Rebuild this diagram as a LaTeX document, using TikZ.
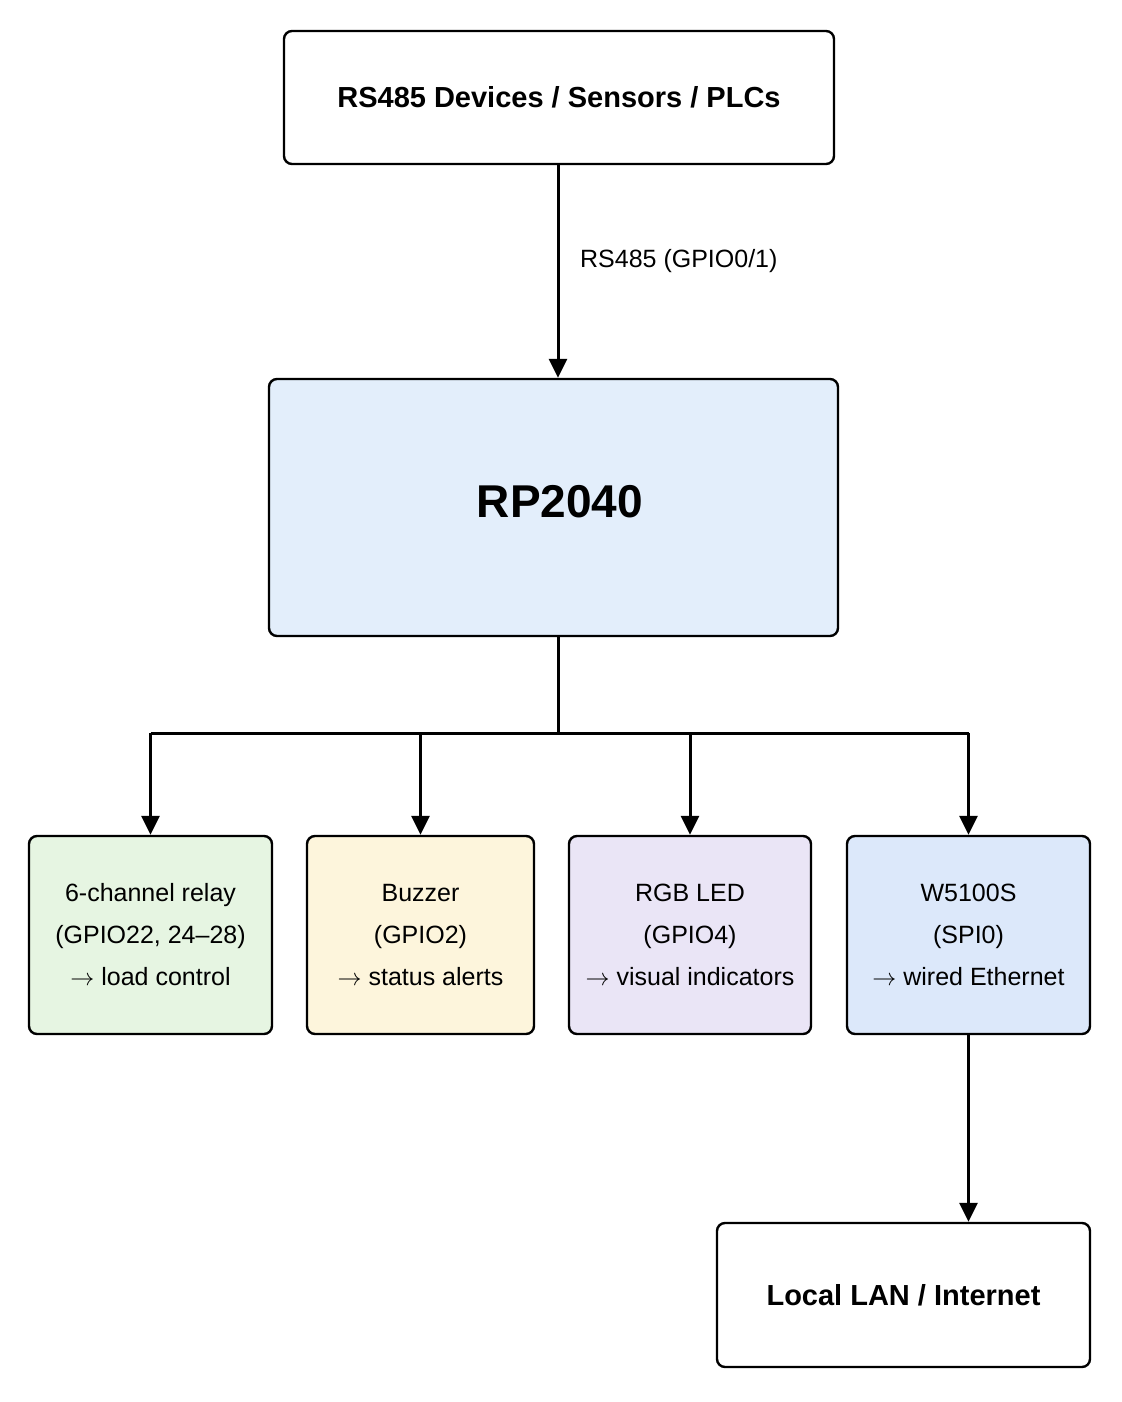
\documentclass[tikz,border=0pt]{standalone}
\usepackage{fontspec}
\setmainfont{Liberation Sans}
\usepackage{xcolor}
\usetikzlibrary{arrows.meta, positioning}

\definecolor{mcublue}{HTML}{E3EEFB}
\definecolor{relaygreen}{HTML}{E6F5E2}
\definecolor{buzzyellow}{HTML}{FDF5DC}
\definecolor{ledlilac}{HTML}{EAE5F6}
\definecolor{ethblue}{HTML}{DCE8FA}

\begin{document}
\begin{tikzpicture}[
  x=0.5pt, y=-0.5pt,
  box/.style={draw, line width=1.2pt, rounded corners=4pt, align=center,
              inner sep=3pt},
  ext/.style={box, fill=white, font=\fontsize{14.5}{18}\selectfont\bfseries,
              minimum height=66.5pt},
  periph/.style={box, minimum width=121.5pt, minimum height=99pt,
                 font=\fontsize{12.5}{21}\selectfont},
  arr/.style={line width=1.5pt, -{Triangle[length=9.5pt, width=9pt]}},
  bus/.style={line width=1.5pt}
]
  \useasboundingbox (0,0) rectangle (1122,1402);

  % Field side
  \node[ext, minimum width=275pt] (field) at (559,97.5) {RS485 Devices / Sensors / PLCs};

  % MCU
  \node[box, fill=mcublue, minimum width=284.5pt, minimum height=128.5pt] (mcu) at (553.5,507.5) {};
  \node[font=\fontsize{23}{28}\selectfont\bfseries] (mcutxt) at (560,502) {RP2040};

  % Peripherals
  \node[periph, fill=relaygreen] (relay) at (150.5,935)
    {6-channel relay\\(GPIO22, 24--28)\\$\rightarrow$ load control};
  \node[periph, fill=buzzyellow, minimum width=113.5pt] (buzzer) at (420.5,935)
    {Buzzer\\(GPIO2)\\$\rightarrow$ status alerts};
  \node[periph, fill=ledlilac, minimum width=121pt] (rgb) at (690,935)
    {RGB LED\\(GPIO4)\\$\rightarrow$ visual indicators};
  \node[periph, fill=ethblue] (eth) at (968.5,935)
    {W5100S\\(SPI0)\\$\rightarrow$ wired Ethernet};

  % Network
  \node[ext, minimum width=186.5pt, minimum height=72pt] (lan) at (903.5,1295) {Local LAN / Internet};

  % Arrows
  \coordinate (split) at (558,733);
  \draw[arr] (field.south -| split) -- (mcu.north -| split)
    node[pos=0.45, right=7pt, font=\fontsize{12.5}{15}\selectfont] {RS485 (GPIO0/1)};
  \draw[bus] (mcu.south -| split) -- (split);
  \draw[bus] (relay.north |- split) -- (eth.north |- split);
  \draw[arr] (relay.north |- split) -- (relay.north);
  \draw[arr] (buzzer.north |- split) -- (buzzer.north);
  \draw[arr] (rgb.north |- split) -- (rgb.north);
  \draw[arr] (eth.north |- split) -- (eth.north);
  \draw[arr] (eth.south) -- (eth.south |- lan.north);
\end{tikzpicture}
\end{document}
